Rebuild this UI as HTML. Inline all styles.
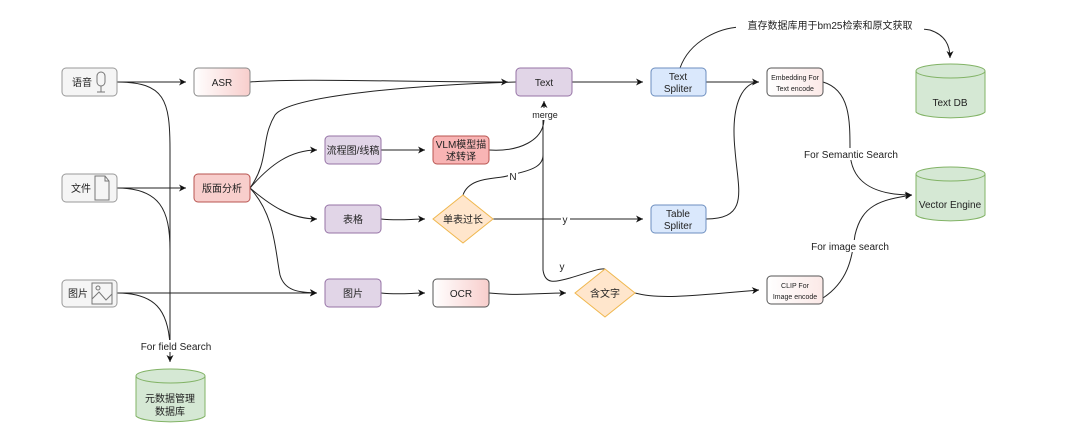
<!DOCTYPE html>
<html><head><meta charset="utf-8"><style>
html,body{margin:0;padding:0;background:#fff;}
svg{display:block;font-family:"Liberation Sans","Noto Sans CJK SC",sans-serif;}
text{fill:#222;font-size:10px;}
</style></head><body>
<svg width="1080" height="446" viewBox="0 0 1080 446" xmlns="http://www.w3.org/2000/svg">
<defs>
<marker id="a" markerWidth="8" markerHeight="8" refX="7" refY="4" orient="auto" markerUnits="userSpaceOnUse"><path d="M0,0.5 L7,4 L0,7.5 L2,4 Z" fill="#111"/></marker>
<linearGradient id="gp" x1="0" x2="1"><stop offset="0" stop-color="#fff"/><stop offset="1" stop-color="#f8cecc"/></linearGradient>
<linearGradient id="gl" x1="0" x2="1"><stop offset="0" stop-color="#fff"/><stop offset="1" stop-color="#fbe9e7"/></linearGradient>
</defs>
<g fill="none" stroke="#222" stroke-width="1">
<!-- left column -->
<path d="M117,82 L186,82" marker-end="url(#a)"/>
<path d="M117,82 C165,82 170,100 170,150 L170,362" marker-end="url(#a)"/>
<path d="M117,188 L186,188" marker-end="url(#a)"/>
<path d="M117,188 C160,188 170,210 170,250"/>
<path d="M117,293 L317,293" marker-end="url(#a)"/>
<path d="M117,293 C155,293 168,310 170,345"/>
<!-- ASR to Text -->
<path d="M250,82 C300,78 400,82 508,82" marker-end="url(#a)"/>
<!-- 版面分析 fan -->
<path d="M250,188 C270,160 260,140 275,115 C290,95 420,85 516,82"/>
<path d="M250,188 C270,165 290,150 317,150" marker-end="url(#a)"/>
<path d="M250,188 C270,205 290,219 317,219" marker-end="url(#a)"/>
<path d="M250,188 C275,215 275,250 280,275 C285,292 300,292 317,293" marker-end="url(#a)"/>
<!-- row 2 -->
<path d="M381,150 L425,150" marker-end="url(#a)"/>
<path d="M489,150 C520,152 543,140 544,120"/>
<path d="M544,108 L544,101" marker-end="url(#a)"/>
<!-- row 3 -->
<path d="M381,219 C400,221 410,219 425,219" marker-end="url(#a)"/>
<path d="M493,219 L643,219" marker-end="url(#a)"/>
<path d="M463,195 C470,175 500,180 510,175 C535,170 543,165 543,155"/>
<path d="M543,120 L543,270 C545,285 555,282 570,278 C590,272 600,268 605,269"/>
<!-- row 4 -->
<path d="M381,293 C400,295 410,293 425,293" marker-end="url(#a)"/>
<path d="M489,293 C520,296 540,293 566,293" marker-end="url(#a)"/>
<path d="M635,293 C660,300 700,295 759,290" marker-end="url(#a)"/>
<!-- right -->
<path d="M572,82 L643,82" marker-end="url(#a)"/>
<path d="M706,82 L759,82" marker-end="url(#a)"/>
<path d="M706,219 C750,219 738,190 735,150 C730,100 745,82 759,82"/>
<path d="M680,68 C690,40 720,28 740,27 C800,25 900,25 930,30 C945,35 950,45 950,58" marker-end="url(#a)"/>
<path d="M823,82 C850,90 850,120 850,150 C850,180 870,195 912,195" marker-end="url(#a)"/>
<path d="M823,298 C850,280 852,255 855,235 C862,205 880,200 912,195" marker-end="url(#a)"/>
</g>
<!-- label backgrounds -->
<g fill="#fff">
<rect x="137" y="340" width="78" height="12"/>
<rect x="802" y="148" width="98" height="12"/>
<rect x="811" y="240" width="78" height="12"/>
<rect x="736" y="18" width="188" height="13"/>
<rect x="530" y="108" width="30" height="12"/>
<rect x="508" y="170" width="10" height="11"/>
<rect x="561" y="213" width="9" height="11"/>
<rect x="558" y="260" width="9" height="11"/>
</g>
<!-- nodes -->
<g stroke-width="1">
<rect x="62" y="68" width="55" height="28" rx="4" fill="#f5f5f5" stroke="#999"/>
<rect x="62" y="174" width="55" height="28" rx="4" fill="#f5f5f5" stroke="#999"/>
<rect x="62" y="280" width="55" height="27" rx="4" fill="#f5f5f5" stroke="#999"/>
<rect x="194" y="68" width="56" height="28" rx="4" fill="url(#gp)" stroke="#888"/>
<rect x="194" y="174" width="56" height="28" rx="4" fill="#f8cecc" stroke="#b85450"/>
<rect x="516" y="68" width="56" height="28" rx="4" fill="#e1d5e7" stroke="#9673a6"/>
<rect x="651" y="68" width="55" height="28" rx="4" fill="#dae8fc" stroke="#6c8ebf"/>
<rect x="767" y="68" width="56" height="28" rx="4" fill="url(#gl)" stroke="#555"/>
<rect x="325" y="136" width="56" height="28" rx="4" fill="#e1d5e7" stroke="#9673a6"/>
<rect x="433" y="136" width="56" height="28" rx="4" fill="#f8b4b4" stroke="#b85450"/>
<rect x="325" y="205" width="56" height="28" rx="4" fill="#e1d5e7" stroke="#9673a6"/>
<rect x="651" y="205" width="55" height="28" rx="4" fill="#dae8fc" stroke="#6c8ebf"/>
<rect x="325" y="279" width="56" height="28" rx="4" fill="#e1d5e7" stroke="#9673a6"/>
<rect x="433" y="279" width="56" height="28" rx="4" fill="url(#gp)" stroke="#555"/>
<rect x="767" y="276" width="56" height="28" rx="4" fill="url(#gl)" stroke="#555"/>
<path d="M463,195 L493,219 L463,243 L433,219 Z" fill="#ffe6cc" stroke="#f0b74d"/>
<path d="M605,269 L635,293 L605,317 L575,293 Z" fill="#ffe6cc" stroke="#f0b74d"/>
<!-- cylinders -->
<g fill="#d5e8d4" stroke="#82b366">
<path d="M916,71 L916,112 A35,7 0 0 0 985,112 L985,71"/>
<ellipse cx="950.5" cy="71" rx="34.5" ry="7"/>
<path d="M916,174 L916,215 A35,7 0 0 0 985,215 L985,174"/>
<ellipse cx="950.5" cy="174" rx="34.5" ry="7"/>
<path d="M136,376 L136,416 A35,7 0 0 0 205,416 L205,376"/>
<ellipse cx="170.5" cy="376" rx="34.5" ry="7"/>
</g>
<!-- icons -->
<g fill="none" stroke="#777">
<rect x="97" y="72" width="8" height="14" rx="4"/>
<path d="M101,86 L101,92 M97,92 L105,92"/>
<path d="M95,176 L105,176 L109,181 L109,200 L95,200 Z M105,176 L105,181 L109,181"/>
<rect x="92" y="283" width="20" height="21"/>
<path d="M92,299 L99,292 L106,300 L112,294"/>
<circle cx="98" cy="288" r="2"/>
</g>
</g>
<!-- text -->
<g text-anchor="middle">
<text x="82" y="86">语音</text>
<text x="81" y="192">文件</text>
<text x="78" y="297">图片</text>
<text x="222" y="86">ASR</text>
<text x="222" y="192">版面分析</text>
<text x="544" y="86">Text</text>
<text x="678" y="80">Text</text><text x="678" y="92">Spliter</text>
<text x="795" y="80" style="font-size:7px">Embedding For</text><text x="795" y="91" style="font-size:7px">Text encode</text>
<text x="353" y="154">流程图/线稿</text>
<text x="461" y="148">VLM模型描</text><text x="461" y="160">述转译</text>
<text x="353" y="223">表格</text>
<text x="463" y="223">单表过长</text>
<text x="678" y="217">Table</text><text x="678" y="229">Spliter</text>
<text x="353" y="297">图片</text>
<text x="461" y="297">OCR</text>
<text x="605" y="297">含文字</text>
<text x="795" y="288" style="font-size:7px">CLIP For</text><text x="795" y="299" style="font-size:7px">Image encode</text>
<text x="950" y="106">Text DB</text>
<text x="950" y="208">Vector Engine</text>
<text x="170" y="402">元数据管理</text><text x="170" y="415">数据库</text>
<text x="545" y="118" style="font-size:9px">merge</text>
<text x="513" y="180">N</text>
<text x="565" y="223">y</text>
<text x="562" y="270">y</text>
<text x="176" y="350">For field Search</text>
<text x="851" y="158">For Semantic Search</text>
<text x="850" y="250">For image search</text>
<text x="830" y="29">直存数据库用于bm25检索和原文获取</text>
</g>
</svg>
</body></html>
